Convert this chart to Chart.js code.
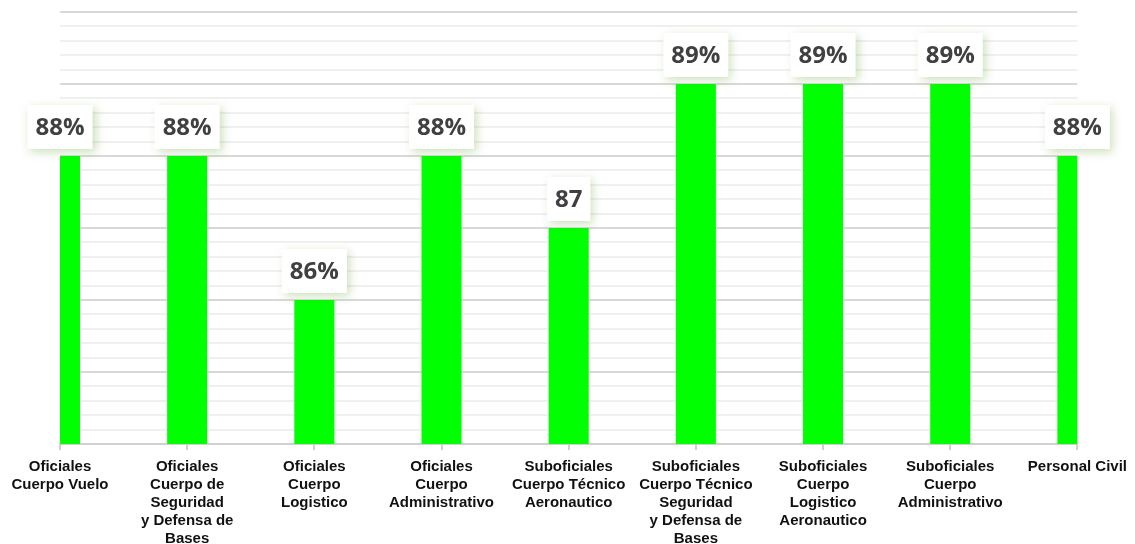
<!DOCTYPE html>
<html>
<head>
<meta charset="utf-8">
<script src="https://cdn.jsdelivr.net/npm/chart.js@4/dist/chart.umd.min.js"></script>
<style>
  html, body { margin: 0; padding: 0; background: #fff; overflow: hidden; }
  #wrap { width: 1135px; height: 544px; }
</style>
</head>
<body>
<div id="wrap"><canvas id="chart"></canvas></div>
<script>
// Categories (multi-line labels)
const categories = [
    ['Oficiales', 'Cuerpo Vuelo'],
    ['Oficiales', 'Cuerpo de', 'Seguridad', 'y Defensa de', 'Bases'],
    ['Oficiales', 'Cuerpo', 'Logistico'],
    ['Oficiales', 'Cuerpo', 'Administrativo'],
    ['Suboficiales', 'Cuerpo Técnico', 'Aeronautico'],
    ['Suboficiales', 'Cuerpo Técnico', 'Seguridad', 'y Defensa de', 'Bases'],
    ['Suboficiales', 'Cuerpo', 'Logistico', 'Aeronautico'],
    ['Suboficiales', 'Cuerpo', 'Administrativo'],
    ['Personal Civil']
];
const values = [88, 88, 86, 88, 87, 89, 89, 89, 88];
const valueLabels = ['88%', '88%', '86%', '88%', '87', '89%', '89%', '89%', '88%'];

// Value boxes drawn above each bar
const boxLabels = {
    id: 'boxLabels',
    afterDatasetsDraw(chart) {
        const ctx = chart.ctx;
        const meta = chart.getDatasetMeta(0);
        ctx.save();
        ctx.font = 'bold 24px "Open Sans"';
        ctx.textAlign = 'center';
        ctx.textBaseline = 'middle';
        meta.data.forEach((bar, i) => {
            const text = valueLabels[i];
            const w = ctx.measureText(text).width + 16;
            const h = 44;
            const x = bar.x - w / 2;
            const y = bar.y - 7 - h;
            ctx.save();
            ctx.shadowColor = 'rgba(110, 170, 60, 0.35)';
            ctx.shadowBlur = 9;
            ctx.shadowOffsetX = 3;
            ctx.shadowOffsetY = 3;
            ctx.fillStyle = '#ffffff';
            ctx.fillRect(x, y, w, h);
            ctx.restore();
            ctx.fillStyle = '#404040';
            ctx.fillText(text, bar.x, y + h / 2 + 1);
        });
        ctx.restore();
    }
};

const isMajor = v => Math.abs(v - Math.round(v)) < 1e-6;

const ctx = document.getElementById('chart').getContext('2d');
new Chart(ctx, {
    type: 'bar',
    data: {
        labels: categories,
        datasets: [{
            data: values,
            backgroundColor: '#00ff00',
            barPercentage: 0.315,
            categoryPercentage: 1,
            clip: 0
        }]
    },
    options: {
        responsive: true,
        maintainAspectRatio: false,
        animation: false,
        layout: { padding: { left: 60, right: 57, top: 12, bottom: 0 } },
        plugins: {
            legend: { display: false },
            tooltip: { enabled: false }
        },
        scales: {
            x: {
                offset: false,
                afterFit: scale => { scale.height = 100; },
                grid: {
                    offset: false,
                    drawOnChartArea: false,
                    drawTicks: true,
                    tickLength: 6,
                    color: '#d0d0d0',
                    lineWidth: 2
                },
                border: { color: '#d0d0d0', width: 2 },
                ticks: {
                    autoSkip: false,
                    maxRotation: 0,
                    padding: 8,
                    color: '#111111',
                    font: { family: '"Liberation Sans", Arial', size: 15, weight: 'bold', lineHeight: 1.2 }
                }
            },
            y: {
                min: 84,
                max: 90,
                ticks: { display: false, stepSize: 0.2 },
                border: { display: false },
                grid: {
                    drawTicks: false,
                    color: c => isMajor(c.tick.value) ? '#d9d9d9' : '#f0f0f0',
                    lineWidth: 2
                }
            }
        }
    },
    plugins: [boxLabels]
});
</script>
</body>
</html>
